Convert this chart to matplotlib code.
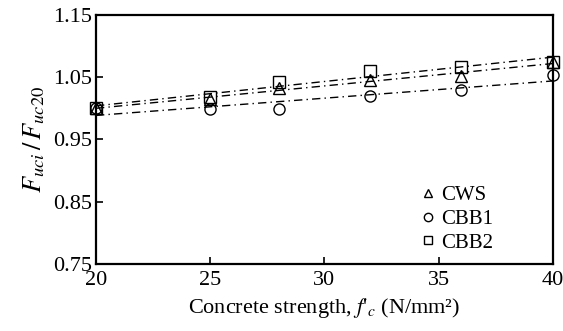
import numpy as np
import matplotlib.pyplot as plt

plt.rcParams['font.family'] = ['Liberation Serif', 'DejaVu Serif']
plt.rcParams['mathtext.fontset'] = 'stix'

strength = [20, 25, 28, 32, 36, 40]
cws = [1.000, 1.015, 1.033, 1.046, 1.052, 1.074]
cbb1 = [1.000, 0.999, 0.999, 1.020, 1.029, 1.054]
cbb2 = [1.000, 1.018, 1.043, 1.060, 1.067, 1.075]

fig = plt.figure(figsize=(5.63, 3.31), dpi=100)
ax = fig.add_axes([0.1705, 0.2024, 0.8115, 0.7523])

reihen = [(cws, '^', 'CWS'), (cbb1, 'o', 'CBB1'), (cbb2, 's', 'CBB2')]
xs = np.array([20, 40])
for werte, m, name in reihen:
    k, d = np.polyfit(strength, werte, 1)
    ax.plot(xs, k * xs + d, color='black', linestyle=(0, (6, 3, 1, 3)), linewidth=1.0)
for werte, m, name in reihen:
    ax.plot(strength, werte, linestyle='none', marker=m, markersize=8,
            markerfacecolor='none', markeredgecolor='black', markeredgewidth=1.0,
            label=name, clip_on=False, zorder=3)

ax.set_xlim(20, 40)
ax.set_ylim(0.75, 1.15)
ax.set_xticks([20, 25, 30, 35, 40])
ax.set_yticks([0.75, 0.85, 0.95, 1.05, 1.15])
ax.set_yticklabels(['0.75', '0.85', '0.95', '1.05', '1.15'])
ax.tick_params(direction='in', length=5, width=1.2, labelsize=16, top=False, right=False, pad=3)
ax.tick_params(axis='x', pad=5)
for s in ax.spines.values():
    s.set_linewidth(1.6)

ax.set_xlabel("Concrete strength, $\\mathit{f}$'$_c$ (N/mm²)", fontsize=16, labelpad=4)
ax.set_ylabel(r'$F_{uci}\,/\,F_{uc20}$', fontsize=19, labelpad=4)

ax.legend(loc='lower right', bbox_to_anchor=(0.91, -0.03), frameon=False, fontsize=15,
          handlelength=0.6, handletextpad=0.3, labelspacing=0.2, markerscale=0.75)

fig.savefig('out.png', dpi=100)
